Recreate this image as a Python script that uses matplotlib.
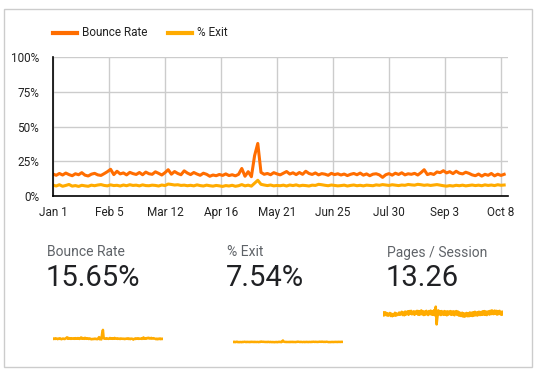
import matplotlib
matplotlib.use("Agg")
import matplotlib.pyplot as plt
import numpy as np
from matplotlib.patches import Rectangle
from matplotlib.lines import Line2D

plt.rcParams['font.family'] = ['Roboto', 'DejaVu Sans']

# ---- data (every 2 days starting Jan 1) ----
bounce_rate = [
    15.8,14.9,16.2,15.1,16.5,15.4,14.6,16.0,15.3,16.8,15.0,14.4,15.7,16.3,15.2,14.8,16.1,17.5,
    19.2,15.4,17.8,15.9,16.6,15.2,17.0,16.1,15.5,16.9,15.3,
    17.2,16.0,15.6,17.4,16.3,15.1,16.8,18.9,
    15.7,17.6,16.2,15.3,18.1,16.5,15.4,16.9,15.8,14.9,16.4,15.6,14.2,
    15.1,14.6,15.5,14.8,15.9,14.7,15.3,14.5,15.6,
    19.8,14.2,17.5,13.9,
    29.0,37.8,17.0,
    15.6,16.2,15.3,16.8,15.9,15.2,16.4,17.6,15.8,16.7,
    15.4,16.9,15.6,17.8,16.2,15.5,16.6,15.2,16.1,15.7,
    14.9,16.3,15.4,16.0,15.1,15.8,14.7,15.6,16.2,15.3,
    16.5,15.0,15.9,14.6,15.7,16.0,15.2,13.4,15.3,16.1,
    15.0,16.4,15.5,16.7,15.2,16.0,15.6,16.3,15.1,16.8,
    18.9,15.4,16.2,15.5,17.3,16.8,18.2,16.6,17.5,16.1,
    17.8,16.4,15.9,17.1,16.3,15.2,14.6,15.8,14.3,15.6,
    14.9,16.2,14.5,15.7,14.8,15.6,
]
exit_rate = [
    7.8,7.2,8.1,7.0,7.6,8.3,7.1,7.5,6.9,7.7,
    7.3,7.0,7.8,7.4,7.9,8.2,7.6,7.3,8.0,7.5,
    7.7,7.2,7.9,7.4,8.1,7.6,7.8,7.3,8.0,7.5,
    7.4,7.8,7.6,7.2,7.9,7.5,8.6,8.3,7.9,8.1,
    7.6,7.8,7.4,7.7,7.3,8.0,7.5,7.2,7.8,7.4,
    7.1,7.6,7.3,6.9,7.5,7.2,7.7,7.0,7.4,8.2,
    7.3,7.8,7.1,9.2,11.3,8.4,7.9,7.5,7.9,7.3,
    7.6,7.4,7.8,7.2,7.9,7.5,8.0,7.3,7.7,7.5,
    7.2,7.8,7.6,8.4,8.1,7.7,7.4,7.9,7.6,7.3,
    7.5,7.8,7.2,7.6,7.9,7.4,7.7,7.3,7.8,7.6,
    7.4,8.0,7.7,8.2,7.9,7.6,8.1,7.8,7.5,7.9,
    7.7,8.3,8.0,7.8,8.4,8.1,7.7,8.0,7.6,7.9,
    8.2,7.8,7.4,7.1,7.5,7.2,7.7,7.4,7.8,7.3,
    7.6,7.9,7.5,7.8,7.4,8.0,7.6,7.9,7.5,8.1,7.7,7.9,
]
pages_per_session = [
    13.8,12.6,14.0,13.9,12.7,13.6,12.5,13.2,13.7,12.4,
    13.4,12.3,13.1,12.6,13.8,12.5,13.5,12.8,13.0,13.9,
    12.9,13.7,14.2,12.8,13.9,12.7,14.3,13.0,14.1,14.4,
    12.9,14.5,13.3,14.6,13.1,14.0,14.4,12.9,14.3,13.4,
    14.6,13.0,14.5,12.9,14.2,14.8,13.1,14.4,12.8,14.3,
    13.0,14.6,13.4,12.8,14.5,13.2,14.7,13.0,14.4,12.9,
    14.9,12.7,16.4,8.8,12.2,14.8,13.1,14.4,12.8,14.5,
    13.2,12.9,14.5,13.0,14.3,12.7,14.4,13.0,14.2,14.5,
    12.9,14.3,13.0,14.4,12.7,14.2,14.5,12.9,14.3,12.6,
    13.9,12.5,12.4,13.8,12.2,13.5,12.1,13.4,13.7,12.3,
    13.6,12.3,13.9,12.5,13.8,12.4,14.0,12.6,14.2,12.7,
    13.9,12.6,14.1,14.2,12.8,14.1,12.9,14.4,13.0,14.5,
    12.9,14.3,12.8,14.2,14.4,13.0,14.6,13.2,14.8,13.3,
    13.2,14.7,13.3,14.6,13.0,14.5,13.2,14.6,13.3,12.9,14.3,13.2,
]
x_tick_days = [0, 35, 70, 105, 140, 175, 210, 245, 280]
x_tick_labels = ["Jan 1", "Feb 5", "Mar 12", "Apr 16", "May 21", "Jun 25", "Jul 30", "Sep 3", "Oct 8"]
y_ticks = [0, 25, 50, 75, 100]
y_tick_labels = ["0%", "25%", "50%", "75%", "100%"]
series_names = ["Bounce Rate", "% Exit"]
score_labels = ["Bounce Rate", "% Exit", "Pages / Session"]
score_values = ["15.65%", "7.54%", "13.26"]

W, H = 538, 372
fig = plt.figure(figsize=(W/100, H/100), dpi=100)
fig.patch.set_facecolor("white")

def fx(px): return px / W
def fy(py): return 1 - py / H

# outer border
fig.patches.append(Rectangle((fx(3.5), fy(366.5)), fx(532) - fx(3.5), fy(8.5) - fy(366.5),
                             transform=fig.transFigure, fill=False, edgecolor="#cccccc", lw=1))

C_BOUNCE = "#FF6D00"
C_EXIT = "#FFAB00"
C_SPARK = "#FFAB00"

# main chart
ax = fig.add_axes([fx(53), fy(196), fx(508) - fx(53), fy(57) - fy(196)])
d_b = np.arange(len(bounce_rate)) * 2
d_e = np.arange(len(exit_rate)) * 2
ax.plot(d_e, exit_rate, color=C_EXIT, lw=2.2, zorder=3)
ax.plot(d_b, bounce_rate, color=C_BOUNCE, lw=2.2, zorder=4)
ax.set_xlim(0, 284.4)
ax.set_ylim(0, 100)
ax.set_xticks(x_tick_days)
ax.set_xticklabels(x_tick_labels)
ax.set_yticks(y_ticks)
ax.set_yticklabels(y_tick_labels)
ax.grid(True, color="#cccccc", lw=1)
ax.set_axisbelow(True)
for s in ["top", "right"]:
    ax.spines[s].set_visible(False)
for s in ["left", "bottom"]:
    ax.spines[s].set_color("black")
    ax.spines[s].set_linewidth(1.2)
    ax.spines[s].set_zorder(5)
ax.tick_params(length=0, labelsize=8.5, labelcolor="#222222")
ax.tick_params(axis="x", pad=7)
ax.tick_params(axis="y", pad=10)

# legend (manual)
fig.add_artist(Line2D([fx(53), fx(77)], [fy(33), fy(33)], color=C_BOUNCE, lw=3))
fig.text(fx(82), fy(33), series_names[0], fontsize=8.5, color="#222222", va="center", ha="left")
fig.add_artist(Line2D([fx(168), fx(192)], [fy(33), fy(33)], color=C_EXIT, lw=3))
fig.text(fx(197), fy(33), series_names[1], fontsize=8.5, color="#222222", va="center", ha="left")

# scorecards
label_x = [47, 227, 387]
for lx, lab, val in zip(label_x, score_labels, score_values):
    fig.text(fx(lx), fy(252.5), lab, fontsize=10, color="#5f6368", va="center", ha="left")
    fig.text(fx(lx - 1), fy(277.5), val, fontsize=21, color="#202124", va="center", ha="left")

# sparklines
spark_specs = [
    (bounce_rate, 53, 163, 100, 1.8),
    (exit_rate, 233, 343, 100, 1.8),
    (pages_per_session, 383, 503, 17.1, 1.8),
]
for data, x0, x1, ymax, lw in spark_specs:
    sax = fig.add_axes([fx(x0), fy(345), fx(x1) - fx(x0), fy(305) - fy(345)])
    dd = np.arange(len(data)) * 2
    sax.plot(dd, data, color=C_SPARK, lw=lw)
    sax.set_xlim(dd[0], dd[-1])
    sax.set_ylim(0, ymax)
    sax.axis("off")

fig.savefig("out.png", dpi=100, facecolor="white")
